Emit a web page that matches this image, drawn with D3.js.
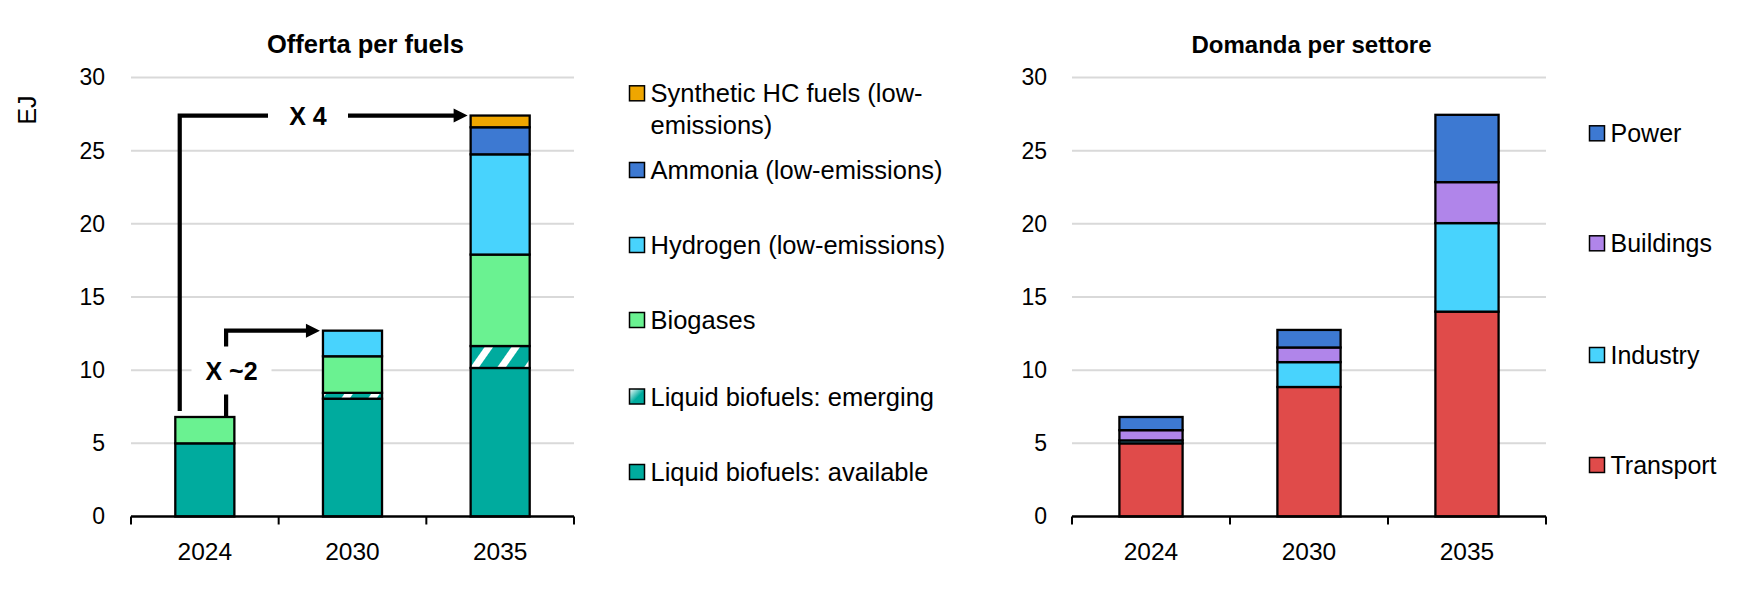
<!DOCTYPE html>
<html>
<head>
<meta charset="utf-8">
<script src="https://cdn.jsdelivr.net/npm/d3@7"></script>
<style>
  html, body { margin: 0; padding: 0; background: #fff; }
  svg { display: block; font-family: "Liberation Sans", Arial, sans-serif; }
</style>
</head>
<body>
<svg id="chart" width="1757" height="605"></svg>
<script>
// ---------- DATA ----------
const years = ["2024", "2030", "2035"];
const yTicks = [0, 5, 10, 15, 20, 25, 30];

// Offerta per fuels (EJ)
const supplySeries = ["available", "emerging", "biogases", "hydrogen", "ammonia", "synthetic"];
const supplyLabels = ["Liquid biofuels: available", "Liquid biofuels: emerging", "Biogases",
                      "Hydrogen (low-emissions)", "Ammonia (low-emissions)", "Synthetic HC fuels (low-emissions)"];
const available = [5.0, 8.05, 10.15];
const emerging  = [0.0, 0.4, 1.5];
const biogases  = [1.8, 2.5, 6.25];
const hydrogen  = [0.0, 1.75, 6.85];
const ammonia   = [0.0, 0.0, 1.85];
const synthetic = [0.0, 0.0, 0.8];

// Domanda per settore (EJ)
const demandSeries = ["transport", "industry", "buildings", "power"];
const demandLabels = ["Transport", "Industry", "Buildings", "Power"];
const transport = [5.0, 8.85, 14.0];
const industry  = [0.2, 1.7, 6.05];
const buildings = [0.7, 1.0, 2.8];
const power     = [0.9, 1.2, 4.6];

// annotations
const annotations = [
  { text: "X 4",  from: "2024", to: "2035" },
  { text: "X ~2", from: "2024", to: "2030" }
];

// ---------- STYLE ----------
const FONT = '"Liberation Sans", Arial, sans-serif';
const supplyColors = {
  available: "#00ab9e", emerging: "url(#hatch)", biogases: "#6af291",
  hydrogen: "#48d3fd", ammonia: "#3d79d2", synthetic: "#efa600"
};
const supplySwatch = Object.assign({}, supplyColors, { emerging: "url(#emgrad)" });
const demandColors = { transport: "#e04b4a", industry: "#48d3fd", buildings: "#b085ea", power: "#3d79d2" };

const svg = d3.select("#chart");
const defs = svg.append("defs");
const pat = defs.append("pattern").attr("id", "hatch").attr("patternUnits", "userSpaceOnUse")
  .attr("width", 22).attr("height", 22).attr("patternTransform", "rotate(35)");
pat.append("rect").attr("width", 22).attr("height", 22).attr("fill", "#00ab9e");
pat.append("rect").attr("x", 2).attr("width", 7).attr("height", 22).attr("fill", "#ffffff");
const grad = defs.append("linearGradient").attr("id", "emgrad")
  .attr("x1", 0).attr("y1", 0).attr("x2", 1).attr("y2", 1);
grad.append("stop").attr("offset", "0%").attr("stop-color", "#ffffff");
grad.append("stop").attr("offset", "55%").attr("stop-color", "#00ab9e");
grad.append("stop").attr("offset", "100%").attr("stop-color", "#00ab9e");

const Y0 = 516.5, Y30 = 77.5;

function panel(opt) {
  const g = svg.append("g");
  const x = d3.scaleBand().domain(years).range([opt.x0, opt.x1]).paddingInner(0.6).paddingOuter(0.3);
  const y = d3.scaleLinear().domain([0, 30]).range([Y0, Y30]);

  // gridlines
  g.append("g").selectAll("line").data(yTicks.filter(d => d > 0)).join("line")
    .attr("x1", opt.x0).attr("x2", opt.x1)
    .attr("y1", d => y(d)).attr("y2", d => y(d))
    .attr("stroke", "#d9d9d9").attr("stroke-width", 2);

  // y axis labels
  const ya = g.append("g").attr("transform", `translate(${opt.x0},0)`)
    .call(d3.axisLeft(y).tickValues(yTicks).tickSize(0).tickPadding(opt.yPad));
  ya.select(".domain").remove();
  ya.selectAll("text").attr("font-family", FONT).attr("font-size", 23).attr("fill", "#000");

  // stacked bars
  const table = years.map((yr, i) => {
    const o = { year: yr };
    opt.series.forEach((s, k) => o[s] = opt.values[k][i]);
    return o;
  });
  const stacked = d3.stack().keys(opt.series)(table);
  g.append("g").selectAll("g").data(stacked).join("g")
    .attr("fill", d => opt.colors[d.key])
    .selectAll("rect").data(d => d.filter(p => p[1] - p[0] > 0)).join("rect")
    .attr("x", d => x(d.data.year))
    .attr("width", x.bandwidth())
    .attr("y", d => y(d[1]))
    .attr("height", d => y(d[0]) - y(d[1]))
    .attr("stroke", "#000").attr("stroke-width", 2.3);

  // x axis
  const xa = g.append("g").attr("transform", `translate(0,${Y0})`);
  xa.append("line").attr("x1", opt.x0).attr("x2", opt.x1).attr("stroke", "#000").attr("stroke-width", 2.5);
  const bounds = [opt.x0].concat(years.map(yr => x(yr) + x.bandwidth() / 2 + x.step() / 2));
  xa.selectAll("line.tk").data(bounds).join("line").attr("class", "tk")
    .attr("x1", d => d).attr("x2", d => d).attr("y1", 0).attr("y2", 8)
    .attr("stroke", "#000").attr("stroke-width", 2);
  xa.selectAll("text").data(years).join("text")
    .attr("x", d => x(d) + x.bandwidth() / 2).attr("y", 43)
    .attr("text-anchor", "middle").attr("font-family", FONT).attr("font-size", 24.5).text(d => d);

  // title
  g.append("text").attr("x", opt.titleX).attr("y", 53).attr("text-anchor", "middle")
    .attr("font-family", FONT).attr("font-weight", "bold").attr("font-size", opt.titleSize).text(opt.title);

  // legend (reverse order)
  const lg = g.append("g");
  const items = opt.series.map((s, k) => ({ key: s, label: opt.labels[k] })).reverse();
  items.forEach((it, i) => {
    const cy = opt.legY[i];
    lg.append("rect").attr("x", opt.legX).attr("y", cy - 7.5).attr("width", 15).attr("height", 15)
      .attr("fill", opt.swatch[it.key]).attr("stroke", "#000").attr("stroke-width", 1.5);
    const t = lg.append("text").attr("x", opt.legX + 21).attr("y", cy)
      .attr("font-family", FONT).attr("font-size", opt.legSize);
    const lines = (opt.wrap && opt.wrap[it.key]) || [it.label];
    lines.forEach((ln, j) => t.append("tspan").attr("x", opt.legX + 21).attr("dy", j === 0 ? "0.36em" : 32).text(ln));
  });

  return { x, y, g, stacked };
}

// Left panel
const L = panel({
  x0: 131, x1: 574, series: supplySeries, labels: supplyLabels,
  values: [available, emerging, biogases, hydrogen, ammonia, synthetic],
  colors: supplyColors, swatch: supplySwatch, yPad: 26,
  title: "Offerta per fuels", titleX: 365.5, titleSize: 25.5,
  legX: 629.5, legY: [93.3, 170, 245, 320, 396.5, 472], legSize: 25.5,
  wrap: { synthetic: ["Synthetic HC fuels (low-", "emissions)"] }
});

// Right panel
const R = panel({
  x0: 1072, x1: 1546, series: demandSeries, labels: demandLabels,
  values: [transport, industry, buildings, power],
  colors: demandColors, swatch: demandColors, yPad: 25,
  title: "Domanda per settore", titleX: 1311.5, titleSize: 24,
  legX: 1589.5, legY: [133.3, 243.3, 355, 465], legSize: 25
});

// y axis title
svg.append("text").attr("transform", "translate(36,110) rotate(-90)")
  .attr("text-anchor", "middle").attr("font-family", FONT).attr("font-size", 25).text("EJ");

// ---------- ANNOTATIONS (left panel) ----------
const totals = years.map((yr, i) => available[i] + emerging[i] + biogases[i] + hydrogen[i] + ammonia[i] + synthetic[i]);
const ax = L.x, ay = L.y, bw = ax.bandwidth();
const ag = svg.append("g");
function arrow(xStart, yBottom, yTop, xEnd, label, labelX, labelY) {
  ag.append("path")
    .attr("d", `M${xStart},${yBottom} V${yTop} H${xEnd - 12}`)
    .attr("fill", "none").attr("stroke", "#000").attr("stroke-width", 4.2);
  ag.append("path")
    .attr("d", `M${xEnd},${yTop} L${xEnd - 14},${yTop - 7} L${xEnd - 14},${yTop + 7} Z`)
    .attr("fill", "#000");
  ag.append("rect").attr("x", labelX - 40).attr("y", labelY - 24).attr("width", 80).attr("height", 48).attr("fill", "#fff");
  ag.append("text").attr("x", labelX).attr("y", labelY).attr("dy", "0.36em").attr("text-anchor", "middle")
    .attr("font-family", FONT).attr("font-weight", "bold").attr("font-size", 25).text(label);
}
// X 4
{
  const i0 = years.indexOf(annotations[0].from), i1 = years.indexOf(annotations[0].to);
  const xs = ax(years[i0]) + bw * 0.075;
  arrow(xs, ay(totals[i0]) - 6, ay(totals[i1]), ax(years[i1]) - 3, annotations[0].text, 308, ay(totals[i1]));
}
// X ~2
{
  const i0 = years.indexOf(annotations[1].from), i1 = years.indexOf(annotations[1].to);
  const xs = ax(years[i0]) + bw * 0.86;
  arrow(xs, ay(totals[i0]), ay(totals[i1]), ax(years[i1]) - 3, annotations[1].text, 231.5, 370.5);
}
</script>
</body>
</html>
